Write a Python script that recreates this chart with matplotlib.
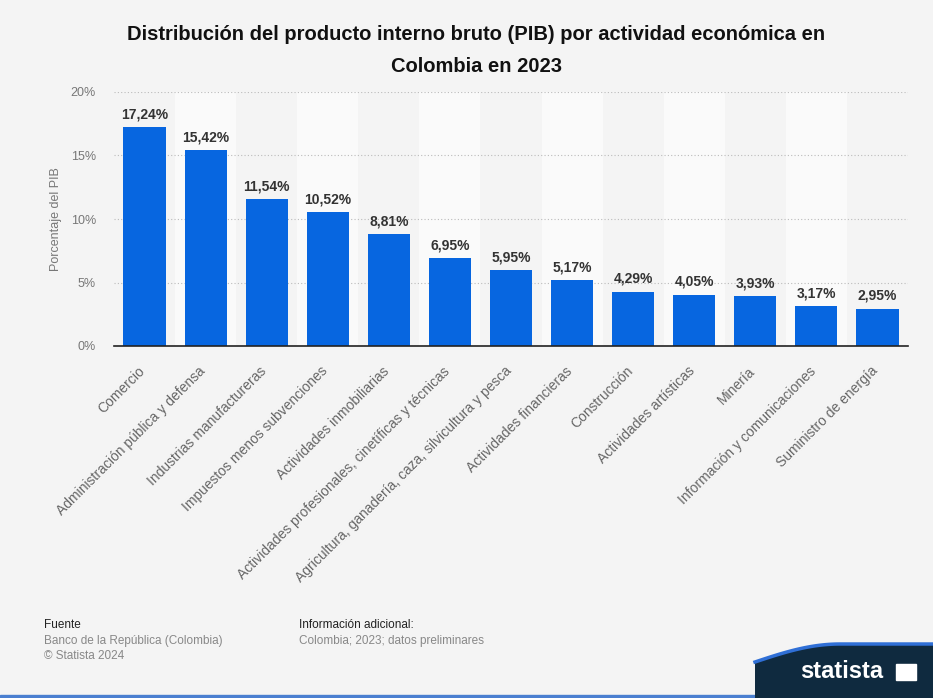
import numpy as np
import matplotlib.pyplot as plt
import matplotlib.transforms as mtransforms
from matplotlib.patches import Rectangle, Polygon

plt.rcParams['font.family'] = ['Liberation Sans', 'DejaVu Sans']

# ---- data ----
categorias = [
    'Comercio',
    'Administración pública y defensa',
    'Industrias manufactureras',
    'Impuestos menos subvenciones',
    'Actividades inmobiliarias',
    'Actividades profesionales, cinetíficas y técnicas',
    'Agricultura, ganadería, caza, silvicultura y pesca',
    'Actividades financieras',
    'Construcción',
    'Actividades artísticas',
    'Minería',
    'Información y comunicaciones',
    'Suministro de energía',
]
valores = [17.24, 15.42, 11.54, 10.52, 8.81, 6.95, 5.95, 5.17, 4.29, 4.05, 3.93, 3.17, 2.95]
y_ticks = [0, 5, 10, 15, 20]

bg = '#f4f4f4'
bar_color = '#0766e0'

fig = plt.figure(figsize=(9.33, 6.98), dpi=100, facecolor=bg)
W, H = 933, 698
ax = fig.add_axes([114 / W, 1 - 346 / H, (908 - 114) / W, (346 - 92) / H])
ax.set_facecolor(bg)

x = np.arange(len(categorias))
# alternating column bands
for i in x:
    if i % 2 == 1:
        ax.axvspan(i - 0.5, i + 0.5, color='#fafafa', zorder=0, lw=0)

ax.bar(x, valores, width=0.69, color=bar_color, zorder=3)
for xi, v in zip(x, valores):
    ax.text(xi, v + 0.45, f'{v:.2f}%'.replace('.', ','), ha='center', va='bottom',
            fontsize=10, fontweight='bold', color='#333333', zorder=4)

ax.set_xlim(-0.5, len(categorias) - 0.5)
ax.set_ylim(0, 20)
ax.set_yticks(y_ticks)
ax.set_yticklabels([f'{t}%' for t in y_ticks], fontsize=9, color='#777777')
ax.yaxis.grid(True, linestyle=(0, (1, 2)), color='#bbbbbb', lw=0.8, zorder=1)
ax.set_axisbelow(True)
for s in ['top', 'right', 'left']:
    ax.spines[s].set_visible(False)
ax.spines['bottom'].set_color('#222222')
ax.spines['bottom'].set_linewidth(1.2)
ax.spines['bottom'].set_zorder(5)
ax.tick_params(axis='both', length=0)
ax.tick_params(axis='y', pad=13)
ax.set_xticks(x)
ax.set_xticklabels(categorias, rotation=45, ha='right', rotation_mode='anchor',
                   fontsize=10, color='#666666')
ax.tick_params(axis='x', pad=13)
shift = mtransforms.ScaledTranslation(-5 / 72, 0, fig.dpi_scale_trans)
for lbl in ax.get_xticklabels():
    lbl.set_transform(lbl.get_transform() + shift)
ax.set_ylabel('Porcentaje del PIB', fontsize=9, color='#777777', labelpad=6)

fig.text(476 / W, 1 - 35 / H, 'Distribución del producto interno bruto (PIB) por actividad económica en',
         ha='center', va='center', fontsize=14.5, fontweight='bold', color='#111111')
fig.text(476 / W, 1 - 66 / H, 'Colombia en 2023',
         ha='center', va='center', fontsize=14.5, fontweight='bold', color='#111111')

# footer
fig.text(44 / W, 1 - 625 / H, 'Fuente', fontsize=8.5, color='#222222', va='center')
fig.text(44 / W, 1 - 641 / H, 'Banco de la República (Colombia)', fontsize=8.5, color='#888888', va='center')
fig.text(44 / W, 1 - 656 / H, '© Statista 2024', fontsize=8.5, color='#888888', va='center')
fig.text(299 / W, 1 - 625 / H, 'Información adicional:', fontsize=8.5, color='#222222', va='center')
fig.text(299 / W, 1 - 641 / H, 'Colombia; 2023; datos preliminares', fontsize=8.5, color='#888888', va='center')

# statista band
fig.patches.append(Rectangle((0, 0), 1, 3 / H, transform=fig.transFigure,
                             color='#4a7fd0', zorder=1))
t = np.linspace(0, 1, 30)
cx = 755 + 85 * t
cy = 662 - 18 * np.sin(t * np.pi / 2)
pts = [(px / W, 1 - py / H) for px, py in zip(cx, cy)]
pts += [(1, 1 - 644 / H), (1, 0), (755 / W, 0)]
fig.patches.append(Polygon(pts, closed=True, transform=fig.transFigure,
                           facecolor='#0f2a3f', edgecolor='none', zorder=2))
fig.lines.append(plt.Line2D([p[0] for p in pts[:30]] + [1], [p[1] for p in pts[:30]] + [1 - 644 / H],
                            transform=fig.transFigure, color='#2f6fd6', lw=2.5, zorder=3))
fig.text(842 / W, 1 - 672 / H, 'statista', fontsize=17, fontweight='bold', color='white',
         ha='center', va='center', zorder=3)
fig.patches.append(Rectangle((896 / W, 1 - 680 / H), 20 / W, 16 / H, transform=fig.transFigure,
                             color='white', zorder=3))

fig.savefig('out.png', dpi=100, facecolor=bg)
